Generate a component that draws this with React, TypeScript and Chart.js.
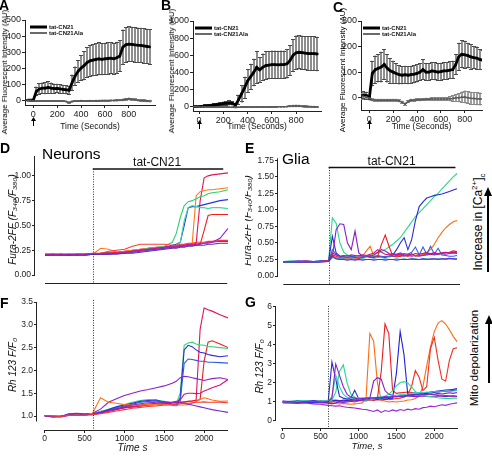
import React, { useEffect, useRef } from "react";
import { Chart, registerables } from "chart.js";

Chart.register(...registerables);

const FONT = '"Liberation Sans", Arial, Helvetica, sans-serif';
Chart.defaults.font.family = FONT;
Chart.defaults.color = "#222";

// ================= Panels A-C (mean ± error, AU) =================
const timeABC = [-50, -25, 0, 25, 50, 75, 100, 125, 150, 175, 200, 225, 250, 275, 300, 325, 350, 375, 400, 425, 450, 475, 500, 525, 550, 575, 600, 625, 650, 675, 700, 725, 750, 775, 800, 825, 850, 875, 900, 925, 950, 975];
const SERIES_LABELS = ["tat-CN21", "tat-CN21Ala"];

const meanA = [0, 0, 0, 55, 70, 75, 75, 80, 75, 72, 73, 70, 68, 65, 62, 110, 150, 180, 200, 215, 235, 245, 250, 255, 258, 255, 258, 260, 262, 258, 265, 275, 330, 345, 350, 348, 345, 343, 342, 338, 335, 332];
const errA = [3, 3, 5, 30, 35, 35, 38, 40, 35, 32, 30, 30, 28, 28, 28, 50, 60, 70, 80, 90, 95, 100, 100, 102, 102, 100, 100, 100, 100, 100, 100, 100, 110, 112, 112, 110, 110, 110, 110, 110, 110, 110];
const alaA = [0, -2, -5, -5, -6, -5, -5, -5, -6, -5, -5, -6, -5, -8, -15, -8, -6, -5, -4, -5, -5, -4, -5, -4, -4, -3, -3, -3, -2, -2, -1, 0, 2, 5, 8, 6, 3, 0, -2, -3, -5, -6];
const alaErrA = [4, 4, 4, 5, 5, 5, 5, 5, 5, 5, 5, 5, 5, 5, 6, 6, 6, 6, 6, 6, 6, 6, 6, 6, 6, 6, 6, 6, 6, 6, 6, 7, 8, 8, 8, 8, 8, 8, 8, 8, 8, 8];

const meanB = [0, 0, 0, 5, 10, 12, 15, 20, 25, 30, 35, 40, 45, 40, 20, 80, 150, 220, 300, 350, 400, 460, 430, 460, 480, 485, 490, 490, 488, 490, 490, 500, 540, 600, 630, 635, 630, 625, 620, 620, 620, 615];
const errB = [10, 10, 10, 15, 18, 20, 20, 20, 22, 25, 25, 28, 30, 25, 20, 60, 100, 130, 140, 150, 160, 190, 150, 160, 165, 165, 165, 165, 165, 165, 165, 170, 180, 190, 200, 200, 200, 200, 200, 200, 200, 200];
const alaB = [0, 0, -3, -3, -4, -4, -5, -5, -4, -5, -5, -5, -6, -6, -8, -6, -5, -5, -4, -4, -4, -3, -3, -3, -3, -2, -2, -2, -1, -1, 0, 2, 5, 8, 10, 8, 6, 4, 2, 0, -2, -3];
const alaErrB = [8, 8, 8, 8, 8, 8, 8, 8, 8, 8, 8, 8, 8, 8, 8, 8, 8, 8, 8, 8, 8, 8, 8, 8, 8, 8, 8, 8, 8, 8, 8, 10, 12, 14, 15, 15, 14, 14, 12, 12, 12, 12];

const meanC = [10, 8, 0, 95, 110, 115, 120, 130, 115, 105, 100, 95, 90, 88, 90, 88, 90, 92, 95, 100, 110, 100, 100, 105, 103, 100, 102, 105, 105, 108, 110, 130, 160, 170, 168, 165, 160, 157, 155, 150, 147, 145];
const errC = [15, 15, 10, 50, 55, 55, 60, 60, 55, 50, 45, 40, 38, 35, 35, 35, 35, 35, 35, 35, 40, 35, 35, 35, 35, 35, 35, 35, 35, 35, 35, 40, 55, 55, 55, 50, 50, 45, 45, 40, 40, 40];
const alaC = [5, 3, -2, -8, -10, -10, -10, -10, -10, -10, -10, -10, -12, -18, -25, -15, -10, -10, -8, -8, -7, -6, -6, -5, -5, -5, -5, -5, -5, -4, -3, 0, 0, 2, 3, 0, -2, -3, -4, -5, -5, -6];
const alaErrC = [12, 12, 8, 6, 6, 6, 6, 6, 6, 6, 6, 6, 6, 6, 6, 6, 6, 6, 6, 6, 6, 6, 6, 6, 6, 6, 6, 6, 8, 10, 12, 15, 18, 22, 25, 25, 25, 25, 25, 25, 25, 25];

const xTicksABC = [0, 200, 400, 600, 800];
const yTicksA = [0, 100, 200, 300, 400, 500];
const yTicksB = [0, 200, 400, 600, 800, 1000];
const yTicksC = [0, 100, 200, 300];

// ================= Neurons (D: Fura-2FF, F: Rh123) =================
const timeNeu = [0, 100, 200, 300, 400, 500, 600, 700, 800, 900, 1000, 1100, 1200, 1300, 1400, 1500, 1600, 1650, 1700, 1750, 1800, 1850, 1900, 1950, 2000, 2050, 2100, 2200, 2300];

const furaN1 = [0.21, 0.21, 0.20, 0.21, 0.21, 0.21, 0.21, 0.22, 0.23, 0.23, 0.24, 0.25, 0.26, 0.27, 0.28, 0.28, 0.29, 0.29, 0.30, 0.30, 0.31, 0.31, 0.32, 0.75, 0.98, 1.00, 1.01, 1.02, 1.03];
const furaN2 = [0.21, 0.21, 0.21, 0.20, 0.21, 0.21, 0.21, 0.27, 0.26, 0.23, 0.24, 0.25, 0.26, 0.27, 0.27, 0.28, 0.29, 0.29, 0.30, 0.31, 0.31, 0.32, 0.80, 0.84, 0.85, 0.86, 0.86, 0.87, 0.88];
const furaN3 = [0.20, 0.21, 0.21, 0.21, 0.20, 0.21, 0.21, 0.21, 0.22, 0.22, 0.23, 0.24, 0.25, 0.27, 0.28, 0.29, 0.33, 0.42, 0.58, 0.70, 0.74, 0.75, 0.77, 0.79, 0.80, 0.82, 0.83, 0.84, 0.86];
const furaN4 = [0.21, 0.20, 0.21, 0.21, 0.21, 0.20, 0.21, 0.21, 0.22, 0.22, 0.23, 0.23, 0.24, 0.25, 0.26, 0.27, 0.29, 0.30, 0.33, 0.55, 0.68, 0.70, 0.69, 0.68, 0.68, 0.67, 0.68, 0.68, 0.67];
const furaN5 = [0.20, 0.20, 0.21, 0.20, 0.21, 0.21, 0.21, 0.21, 0.22, 0.22, 0.23, 0.24, 0.25, 0.26, 0.27, 0.28, 0.30, 0.31, 0.33, 0.50, 0.68, 0.69, 0.69, 0.70, 0.71, 0.72, 0.73, 0.75, 0.76];
const furaN6 = [0.21, 0.21, 0.21, 0.21, 0.20, 0.21, 0.22, 0.22, 0.22, 0.23, 0.23, 0.24, 0.25, 0.26, 0.26, 0.27, 0.28, 0.28, 0.29, 0.29, 0.30, 0.30, 0.30, 0.31, 0.45, 0.60, 0.61, 0.61, 0.61];
const furaN7 = [0.21, 0.20, 0.21, 0.21, 0.21, 0.21, 0.21, 0.22, 0.24, 0.25, 0.26, 0.29, 0.31, 0.31, 0.31, 0.31, 0.30, 0.30, 0.31, 0.31, 0.32, 0.32, 0.33, 0.33, 0.33, 0.34, 0.34, 0.35, 0.35];
const furaN8 = [0.20, 0.21, 0.20, 0.21, 0.21, 0.20, 0.21, 0.21, 0.21, 0.22, 0.22, 0.23, 0.24, 0.25, 0.26, 0.27, 0.28, 0.28, 0.29, 0.29, 0.30, 0.30, 0.31, 0.31, 0.32, 0.32, 0.33, 0.37, 0.47];
const furaN9 = [0.20, 0.20, 0.20, 0.20, 0.20, 0.20, 0.21, 0.21, 0.21, 0.21, 0.22, 0.22, 0.23, 0.24, 0.25, 0.26, 0.27, 0.27, 0.28, 0.28, 0.29, 0.29, 0.30, 0.30, 0.30, 0.31, 0.31, 0.32, 0.32];
const furaN10 = [0.21, 0.21, 0.21, 0.20, 0.21, 0.21, 0.21, 0.21, 0.22, 0.22, 0.23, 0.24, 0.25, 0.26, 0.27, 0.28, 0.29, 0.29, 0.30, 0.30, 0.31, 0.31, 0.31, 0.32, 0.32, 0.33, 0.33, 0.34, 0.34];

const rhN1 = [1.00, 0.99, 1.00, 1.02, 1.03, 1.02, 1.05, 1.10, 1.13, 1.16, 1.18, 1.20, 1.22, 1.24, 1.26, 1.27, 1.28, 1.30, 1.30, 1.31, 1.32, 1.33, 1.35, 2.90, 3.37, 3.33, 3.30, 3.22, 3.15];
const rhN2 = [1.01, 0.99, 0.99, 1.03, 1.02, 1.03, 1.04, 1.08, 1.12, 1.15, 1.18, 1.20, 1.22, 1.24, 1.25, 1.27, 1.28, 1.29, 1.30, 1.30, 1.32, 1.33, 1.34, 1.36, 2.20, 2.62, 2.65, 2.58, 2.50];
const rhN3 = [1.00, 1.00, 0.98, 1.04, 1.03, 1.02, 1.06, 1.10, 1.15, 1.20, 1.25, 1.30, 1.34, 1.36, 1.35, 1.32, 1.28, 1.27, 1.50, 2.55, 2.60, 2.62, 2.58, 2.56, 2.55, 2.53, 2.52, 2.50, 2.48];
const rhN4 = [1.01, 0.98, 0.99, 1.02, 1.04, 1.03, 1.05, 1.08, 1.14, 1.20, 1.24, 1.28, 1.32, 1.34, 1.35, 1.30, 1.25, 1.24, 1.40, 2.45, 2.55, 2.52, 2.45, 2.40, 2.38, 2.35, 2.33, 2.30, 2.32];
const rhN5 = [1.00, 0.99, 1.00, 1.01, 1.02, 1.04, 1.04, 1.06, 1.12, 1.18, 1.22, 1.26, 1.30, 1.32, 1.33, 1.30, 1.24, 1.22, 1.32, 2.15, 2.25, 2.24, 2.22, 2.20, 2.20, 2.18, 2.18, 2.17, 2.16];
const rhN6 = [1.01, 1.00, 0.99, 1.05, 1.06, 1.05, 1.06, 1.15, 1.30, 1.38, 1.45, 1.50, 1.55, 1.58, 1.62, 1.66, 1.72, 1.76, 1.84, 1.87, 1.86, 1.84, 1.82, 1.80, 1.78, 1.80, 1.82, 1.84, 1.80];
const rhN7 = [1.00, 0.98, 0.99, 1.03, 1.05, 1.03, 1.04, 1.08, 1.12, 1.16, 1.20, 1.24, 1.27, 1.29, 1.30, 1.31, 1.30, 1.30, 1.29, 1.28, 1.26, 1.24, 1.22, 1.20, 1.18, 1.16, 1.14, 1.11, 1.08];
const rhN8 = [1.00, 1.00, 0.99, 1.02, 1.03, 1.02, 1.06, 1.40, 1.30, 1.28, 1.25, 1.24, 1.24, 1.25, 1.25, 1.24, 1.24, 1.23, 1.24, 1.24, 1.25, 1.28, 1.32, 1.36, 1.40, 1.38, 1.35, 1.32, 1.33];
const rhN9 = [1.00, 0.99, 0.98, 1.01, 1.02, 1.03, 1.03, 1.06, 1.10, 1.14, 1.18, 1.21, 1.24, 1.26, 1.28, 1.29, 1.30, 1.32, 1.35, 1.48, 1.50, 1.50, 1.49, 1.50, 1.55, 1.58, 1.62, 1.68, 1.80];
const rhN10 = [1.01, 1.00, 0.99, 1.02, 1.01, 1.02, 1.03, 1.05, 1.08, 1.11, 1.14, 1.17, 1.19, 1.21, 1.22, 1.24, 1.25, 1.26, 1.27, 1.28, 1.28, 1.29, 1.30, 1.30, 1.31, 1.30, 1.30, 1.30, 1.29];

// ================= Glia (E: Fura-2FF, G: Rh123) =================
const timeGlia = [0, 100, 200, 300, 400, 500, 600, 650, 700, 750, 800, 850, 900, 950, 1000, 1050, 1100, 1150, 1200, 1250, 1300, 1350, 1400, 1450, 1500, 1550, 1600, 1650, 1700, 1750, 1800, 1850, 1900, 1950, 2000, 2050, 2100, 2150, 2200, 2250, 2300];

const furaG1 = [0.22, 0.23, 0.22, 0.23, 0.22, 0.23, 0.24, 0.88, 0.80, 0.50, 0.36, 0.32, 0.30, 0.29, 0.28, 0.29, 0.30, 0.31, 0.33, 0.35, 0.37, 0.40, 0.44, 0.48, 0.53, 0.58, 0.66, 0.74, 0.82, 0.90, 0.96, 1.02, 1.08, 1.14, 1.20, 1.25, 1.32, 1.38, 1.44, 1.50, 1.55];
const furaG2 = [0.22, 0.22, 0.23, 0.22, 0.22, 0.23, 0.23, 0.60, 0.35, 0.30, 0.29, 0.28, 0.30, 0.28, 0.27, 0.28, 0.30, 0.29, 0.28, 0.30, 0.29, 0.28, 0.30, 0.32, 0.40, 0.50, 0.58, 0.40, 0.55, 0.84, 1.05, 1.12, 1.18, 1.20, 1.22, 1.23, 1.24, 1.26, 1.28, 1.30, 1.32];
const furaG3 = [0.21, 0.22, 0.21, 0.22, 0.21, 0.22, 0.22, 0.30, 0.70, 0.79, 0.78, 0.50, 0.40, 0.68, 0.35, 0.30, 0.29, 0.30, 0.32, 0.36, 0.40, 0.38, 0.34, 0.32, 0.33, 0.35, 0.32, 0.31, 0.30, 0.31, 0.30, 0.31, 0.32, 0.33, 0.32, 0.33, 0.34, 0.33, 0.34, 0.35, 0.34];
const furaG4 = [0.22, 0.21, 0.22, 0.22, 0.21, 0.22, 0.23, 0.30, 0.28, 0.27, 0.28, 0.27, 0.28, 0.27, 0.28, 0.30, 0.38, 0.45, 0.30, 0.28, 0.29, 0.30, 0.29, 0.30, 0.31, 0.30, 0.31, 0.30, 0.32, 0.31, 0.33, 0.34, 0.36, 0.40, 0.48, 0.58, 0.66, 0.73, 0.78, 0.82, 0.84];
const furaG5 = [0.22, 0.22, 0.21, 0.22, 0.22, 0.22, 0.23, 0.32, 0.30, 0.28, 0.27, 0.28, 0.27, 0.28, 0.27, 0.28, 0.30, 0.28, 0.29, 0.30, 0.48, 0.62, 0.45, 0.30, 0.29, 0.30, 0.31, 0.30, 0.34, 0.30, 0.31, 0.32, 0.34, 0.33, 0.35, 0.33, 0.34, 0.35, 0.36, 0.38, 0.37];
const furaG6 = [0.21, 0.22, 0.22, 0.21, 0.22, 0.22, 0.22, 0.40, 0.33, 0.30, 0.30, 0.31, 0.30, 0.30, 0.31, 0.30, 0.30, 0.31, 0.30, 0.31, 0.30, 0.29, 0.30, 0.30, 0.31, 0.32, 0.30, 0.33, 0.36, 0.44, 0.32, 0.44, 0.33, 0.45, 0.33, 0.42, 0.32, 0.31, 0.30, 0.30, 0.31];
const furaG7 = [0.21, 0.21, 0.22, 0.21, 0.21, 0.22, 0.22, 0.28, 0.27, 0.26, 0.26, 0.25, 0.26, 0.25, 0.25, 0.26, 0.25, 0.25, 0.26, 0.25, 0.25, 0.26, 0.25, 0.25, 0.26, 0.25, 0.26, 0.25, 0.26, 0.26, 0.25, 0.26, 0.26, 0.25, 0.26, 0.26, 0.26, 0.25, 0.26, 0.26, 0.25];
const furaG8 = [0.22, 0.22, 0.22, 0.23, 0.22, 0.22, 0.23, 0.35, 0.32, 0.30, 0.31, 0.30, 0.32, 0.31, 0.30, 0.32, 0.31, 0.33, 0.35, 0.40, 0.36, 0.33, 0.32, 0.34, 0.33, 0.32, 0.34, 0.33, 0.32, 0.34, 0.33, 0.34, 0.35, 0.34, 0.35, 0.34, 0.35, 0.36, 0.35, 0.36, 0.35];
const furaG9 = [0.21, 0.21, 0.21, 0.21, 0.21, 0.21, 0.22, 0.30, 0.26, 0.25, 0.25, 0.24, 0.25, 0.24, 0.25, 0.24, 0.25, 0.25, 0.24, 0.25, 0.25, 0.24, 0.25, 0.25, 0.24, 0.25, 0.25, 0.25, 0.26, 0.25, 0.25, 0.26, 0.25, 0.26, 0.26, 0.25, 0.26, 0.26, 0.27, 0.26, 0.26];

const rhG1 = [1.02, 0.98, 1.05, 1.00, 0.97, 1.03, 1.00, 3.10, 2.20, 1.30, 1.20, 1.15, 1.20, 1.62, 1.20, 1.15, 1.18, 1.20, 1.22, 1.20, 1.22, 1.25, 1.24, 1.26, 1.28, 1.30, 1.32, 1.35, 1.38, 1.40, 1.42, 1.45, 1.48, 1.52, 1.55, 1.58, 1.60, 1.62, 1.64, 1.66, 1.70];
const rhG2 = [1.00, 1.04, 0.98, 1.02, 1.05, 0.99, 1.02, 1.20, 3.00, 2.40, 1.80, 1.40, 1.25, 1.20, 1.15, 1.18, 1.20, 1.22, 1.20, 1.25, 1.22, 1.28, 1.25, 1.30, 1.28, 1.32, 1.30, 1.35, 1.32, 1.38, 1.35, 1.40, 1.38, 1.42, 1.40, 1.45, 1.42, 1.45, 1.48, 1.45, 1.50];
const rhG3 = [0.98, 1.02, 1.08, 1.04, 1.00, 1.06, 1.02, 1.10, 1.50, 2.60, 2.95, 2.00, 1.40, 1.25, 1.15, 1.12, 1.10, 1.12, 1.15, 1.18, 1.22, 1.30, 1.40, 1.60, 1.85, 2.02, 2.07, 2.00, 1.80, 1.55, 1.40, 1.35, 1.30, 1.28, 1.25, 1.22, 1.20, 1.18, 1.18, 1.20, 1.20];
const rhG4 = [1.04, 1.00, 1.02, 1.07, 1.03, 1.01, 1.05, 1.30, 2.40, 1.80, 1.40, 1.25, 1.20, 1.18, 1.20, 1.22, 1.20, 1.25, 1.22, 1.25, 1.28, 1.30, 1.28, 1.32, 1.35, 1.38, 1.40, 1.42, 1.45, 1.48, 1.50, 1.48, 1.52, 1.50, 1.55, 1.52, 1.55, 1.58, 1.55, 1.58, 1.60];
const rhG5 = [1.00, 0.97, 1.03, 0.99, 1.01, 0.96, 0.98, 0.95, 0.92, 0.90, 0.92, 0.90, 0.88, 0.90, 0.92, 0.95, 1.20, 4.60, 4.20, 2.00, 1.10, 1.05, 1.00, 1.02, 1.00, 1.02, 1.05, 1.10, 1.12, 1.18, 1.30, 1.80, 2.90, 3.90, 4.70, 5.15, 5.28, 5.10, 4.80, 4.45, 4.17];
const rhG6 = [1.03, 1.00, 0.98, 1.04, 1.02, 1.00, 1.03, 1.05, 1.10, 1.08, 1.05, 1.10, 1.08, 1.10, 1.12, 1.10, 1.15, 1.12, 1.15, 1.20, 2.60, 5.10, 4.60, 1.60, 1.45, 1.48, 1.50, 1.52, 1.50, 1.48, 1.50, 1.45, 1.42, 1.40, 1.38, 1.36, 1.35, 1.34, 1.32, 1.30, 1.30];
const rhG7 = [0.99, 1.02, 1.00, 0.97, 1.01, 1.03, 1.00, 1.00, 1.05, 1.02, 1.00, 1.05, 1.02, 1.00, 1.05, 1.08, 1.05, 1.10, 1.08, 1.12, 1.10, 1.15, 1.12, 1.15, 1.18, 1.20, 1.25, 1.40, 1.80, 2.65, 2.30, 1.60, 1.80, 3.80, 4.40, 3.20, 2.20, 2.10, 3.20, 3.80, 3.85];
const rhG8 = [1.05, 1.02, 1.06, 1.03, 1.08, 1.04, 1.06, 1.10, 1.08, 1.05, 1.10, 1.08, 1.12, 1.10, 1.08, 1.12, 1.10, 1.15, 1.12, 1.15, 1.18, 1.15, 1.18, 1.20, 2.50, 4.70, 3.50, 1.40, 1.35, 1.38, 1.40, 1.42, 1.45, 1.48, 1.50, 1.52, 1.55, 1.55, 1.58, 1.60, 1.62];
const rhG9 = [0.97, 1.00, 0.96, 0.99, 0.95, 0.98, 0.94, 0.90, 0.95, 1.00, 0.98, 1.00, 1.02, 1.05, 1.08, 1.10, 1.12, 1.20, 2.10, 2.28, 2.20, 1.60, 1.40, 1.35, 1.30, 1.28, 1.30, 1.32, 1.30, 1.28, 1.30, 1.32, 1.30, 1.28, 1.30, 1.32, 1.30, 1.28, 1.30, 1.32, 1.30];
const rhG10 = [0.95, 0.93, 0.92, 0.95, 0.90, 0.88, 0.82, 0.80, 0.78, 0.80, 0.75, 0.72, 0.70, 0.68, 0.65, 0.62, 0.60, 0.55, 0.50, 0.58, 0.45, 0.55, 0.50, 0.58, 0.52, 0.60, 0.55, 0.62, 0.58, 0.65, 0.62, 0.70, 0.72, 0.78, 0.75, 0.80, 0.85, 0.82, 0.88, 0.92, 0.95];

const yTicksD = [0, 0.25, 0.5, 0.75, 1.0];
const yTicksE = [0, 0.25, 0.5, 0.75, 1.0, 1.25, 1.5, 1.75];
const yTicksF = [1.0, 1.5, 2.0, 2.5, 3.0, 3.5];
const yTicksG = [0, 1, 2, 3, 4, 5, 6];
const xTicksFG = [0, 500, 1000, 1500, 2000];
const DRUG_LABEL = "tat-CN21";

// ================= styles =================
const colorsD = ["#e3145f", "#ff7a12", "#2fcf6e", "#3fd9a6", "#2336e0", "#f0201d", "#ff3b2f", "#8a24d6", "#4a30d0", "#d0148a"];
const colorsF = ["#e3145f", "#ea1f1f", "#33d67a", "#2a2ad8", "#2f5be6", "#8a1fd0", "#7d26c9", "#ff7410", "#d4127a", "#f23a3a"];
const colorsE = ["#26d98c", "#2b2bd8", "#8a1fc4", "#ff6a10", "#ec1c24", "#2f62e8", "#19a8b5", "#c8147f", "#5b2fd0"];
const colorsG = ["#2a2ad8", "#8a1fd0", "#27d98c", "#2fd0c0", "#ff6a10", "#ec1c24", "#f03020", "#2020e0", "#7a1fc8", "#9a22d8"];

type Geo = { left: number; top: number; w: number; h: number; l: number; t: number; r: number; b: number };
type Decor = {
  legend?: { dx: number };
  arrow0?: { from: number; to: number };
  spine?: { y0: number; y1: number; x0: number; x1: number };
  vline?: { x: number; yTop: number };
  bar?: { y: number; x0: number; x1: number; label: string; lx: number };
};

const GEO_A: Geo = { left: 0, top: 8, w: 160, h: 125, l: 25, t: 20, r: 155, b: 105 };
const GEO_B: Geo = { left: 160, top: 8, w: 165, h: 125, l: 193, t: 21, r: 322, b: 111 };
const GEO_C: Geo = { left: 325, top: 8, w: 167, h: 125, l: 361, t: 21, r: 482, b: 110 };
const GEO_D: Geo = { left: 0, top: 149, w: 236, h: 141, l: 35, t: 156, r: 228, b: 283 };
const GEO_E: Geo = { left: 245, top: 150, w: 222, h: 141, l: 278, t: 157, r: 460, b: 284 };
const GEO_F: Geo = { left: 0, top: 293, w: 236, h: 166, l: 37, t: 300, r: 228, b: 430 };
const GEO_G: Geo = { left: 246, top: 296, w: 222, h: 163, l: 276, t: 305, r: 458, b: 428 };

const pts = (ts: number[], vs: number[]) => ts.map((t, i) => ({ x: t, y: vs[i] }));

function traceSets(ts: number[], series: number[][], colors: string[]) {
  return series.map((vs, i) => ({
    data: pts(ts, vs),
    borderColor: colors[i % colors.length],
    borderWidth: 1.1,
    pointRadius: 0,
    fill: false,
    tension: 0,
  }));
}

function meanSets(mean: number[], err: number[], ala: number[], alaErr: number[]) {
  return [
    {
      label: SERIES_LABELS[1], data: pts(timeABC, ala), errors: alaErr, errorColor: "#a0a0a0", capColor: "#888",
      borderColor: "#5a5a5a", borderWidth: 1.6, pointStyle: "rect", pointRadius: 1.1,
      pointBackgroundColor: "#5a5a5a", pointBorderWidth: 0,
    },
    {
      label: SERIES_LABELS[0], data: pts(timeABC, mean), errors: err, errorColor: "#8e8e8e", capColor: "#4a4a4a",
      borderColor: "#000", borderWidth: 2.8, pointStyle: "rect", pointRadius: 1.6,
      pointBackgroundColor: "#000", pointBorderWidth: 0,
    },
  ];
}

function makeDecor(d: Decor) {
  return {
    id: "decor",
    beforeDatasetsDraw(chart: any) {
      const { ctx, chartArea: ca } = chart;
      const xs = chart.scales.x, ys = chart.scales.y;
      ctx.save();
      ctx.beginPath();
      ctx.rect(ca.left, ca.top - 3, ca.right - ca.left, ca.bottom - ca.top + 6);
      ctx.clip();
      chart.data.datasets.forEach((ds: any) => {
        if (!ds.errors) return;
        // vertical bars
        ctx.strokeStyle = ds.errorColor;
        ctx.lineWidth = 2;
        ctx.beginPath();
        ds.data.forEach((p: any, i: number) => {
          const e = ds.errors[i];
          const x = Math.round(xs.getPixelForValue(p.x));
          ctx.moveTo(x, ys.getPixelForValue(p.y + e));
          ctx.lineTo(x, ys.getPixelForValue(p.y - e));
        });
        ctx.stroke();
        // caps
        ctx.strokeStyle = ds.capColor;
        ctx.lineWidth = 1;
        ctx.beginPath();
        ds.data.forEach((p: any, i: number) => {
          const e = ds.errors[i];
          const x = Math.round(xs.getPixelForValue(p.x));
          const y1 = Math.round(ys.getPixelForValue(p.y + e)) + 0.5;
          const y2 = Math.round(ys.getPixelForValue(p.y - e)) - 0.5;
          ctx.moveTo(x - 2, y1); ctx.lineTo(x + 2, y1);
          ctx.moveTo(x - 2, y2); ctx.lineTo(x + 2, y2);
        });
        ctx.stroke();
      });
      ctx.restore();
    },
    afterDraw(chart: any) {
      const { ctx, chartArea: ca } = chart;
      const xs = chart.scales.x, ys = chart.scales.y;
      ctx.save();
      ctx.strokeStyle = "#222";
      ctx.fillStyle = "#111";
      ctx.lineWidth = 1;
      if (d.spine) {
        const x = Math.round(ca.left) - 0.5;
        ctx.beginPath();
        ctx.moveTo(x, ys.getPixelForValue(d.spine.y0));
        ctx.lineTo(x, ys.getPixelForValue(d.spine.y1));
        const y = Math.round(ca.bottom) + 0.5;
        ctx.moveTo(xs.getPixelForValue(d.spine.x0), y);
        ctx.lineTo(xs.getPixelForValue(d.spine.x1), y);
        ctx.stroke();
      }
      if (d.vline) {
        const x = Math.round(xs.getPixelForValue(d.vline.x)) + 0.5;
        ctx.save();
        ctx.setLineDash([1, 1.5]);
        ctx.strokeStyle = "#333";
        ctx.beginPath();
        ctx.moveTo(x, ys.getPixelForValue(d.vline.yTop));
        ctx.lineTo(x, ca.bottom);
        ctx.stroke();
        ctx.restore();
      }
      if (d.bar) {
        const y = ys.getPixelForValue(d.bar.y);
        ctx.lineWidth = 1.5;
        ctx.strokeStyle = "#111";
        ctx.beginPath();
        ctx.moveTo(xs.getPixelForValue(d.bar.x0), y);
        ctx.lineTo(xs.getPixelForValue(d.bar.x1), y);
        ctx.stroke();
        ctx.font = `12px ${FONT}`;
        ctx.textAlign = "center";
        ctx.textBaseline = "alphabetic";
        ctx.fillText(d.bar.label, xs.getPixelForValue(d.bar.lx), y - 2.5);
      }
      if (d.legend) {
        const x0 = ca.left + d.legend.dx;
        const y1 = ca.top + 7, y2 = ca.top + 13;
        ctx.lineWidth = 3;
        ctx.strokeStyle = "#000";
        ctx.beginPath(); ctx.moveTo(x0, y1); ctx.lineTo(x0 + 17, y1); ctx.stroke();
        ctx.lineWidth = 1.8;
        ctx.strokeStyle = "#5a5a5a";
        ctx.beginPath(); ctx.moveTo(x0, y2); ctx.lineTo(x0 + 17, y2); ctx.stroke();
        ctx.font = `bold 6px ${FONT}`;
        ctx.textAlign = "left";
        ctx.textBaseline = "middle";
        ctx.fillStyle = "#111";
        ctx.fillText(SERIES_LABELS[0], x0 + 19, y1);
        ctx.fillText(SERIES_LABELS[1], x0 + 19, y2);
      }
      if (d.arrow0) {
        const x = Math.round(xs.getPixelForValue(0)) + 0.5;
        const yt = ca.bottom + d.arrow0.from, yb = ca.bottom + d.arrow0.to;
        ctx.lineWidth = 1;
        ctx.strokeStyle = "#000";
        ctx.fillStyle = "#000";
        ctx.beginPath(); ctx.moveTo(x, yb); ctx.lineTo(x, yt + 2); ctx.stroke();
        ctx.beginPath(); ctx.moveTo(x, yt); ctx.lineTo(x - 2.5, yt + 4); ctx.lineTo(x + 2.5, yt + 4); ctx.closePath(); ctx.fill();
      }
      ctx.restore();
    },
  };
}

type AxisOpt = {
  min: number; max: number; ticks?: number[]; fmt?: (v: number) => string;
  size?: number; border?: boolean; title?: any;
};

function axis(o: AxisOpt) {
  const show = !!o.ticks;
  return {
    type: "linear",
    min: o.min,
    max: o.max,
    afterBuildTicks: (s: any) => {
      if (o.ticks) s.ticks = o.ticks.map((v) => ({ value: v }));
    },
    grid: { display: show, drawOnChartArea: false, drawTicks: true, tickLength: 3, color: "#222", lineWidth: 1 },
    border: { display: !!o.border, color: "#222", width: 1 },
    ticks: {
      display: show,
      font: { size: o.size ?? 9, family: FONT },
      color: "#222",
      padding: 1,
      maxRotation: 0,
      minRotation: 0,
      autoSkip: false,
      callback: (v: any) => (o.fmt ? o.fmt(Number(v)) : String(v)),
    },
    title: o.title ?? { display: false },
  };
}

function makeConfig(geo: Geo, datasets: any[], xOpt: any, yOpt: any, decor: Decor) {
  const xH = geo.top + geo.h - geo.b;
  const yW = geo.l - geo.left;
  return {
    type: "line",
    data: { datasets },
    options: {
      animation: false,
      responsive: false,
      maintainAspectRatio: false,
      devicePixelRatio: 1,
      events: [],
      layout: { padding: { left: 0, top: geo.t - geo.top, right: geo.left + geo.w - geo.r, bottom: 0 } },
      plugins: { legend: { display: false }, tooltip: { enabled: false }, title: { display: false } },
      elements: { line: { tension: 0, fill: false }, point: { radius: 0 } },
      scales: {
        x: { ...xOpt, afterFit: (s: any) => { s.height = xH; } },
        y: { ...yOpt, afterFit: (s: any) => { s.width = yW; } },
      },
    },
    plugins: [makeDecor(decor)],
  } as any;
}

const xTitleABC = { display: true, text: "Time (Seconds)", font: { size: 8.5, family: FONT }, color: "#111", padding: { top: 0, bottom: 1 } };
const f2 = (v: number) => v.toFixed(2);
const f1 = (v: number) => v.toFixed(1);
const furaTitle = (pad: number, lh: number) => ({
  display: true, text: "Fura-2FF (F₃₄₀/F₃₈₀)", font: { size: 10, style: "italic", family: FONT, lineHeight: lh },
  color: "#111", padding: { top: pad, bottom: 0 },
});
const rhTitle = (pad: number) => ({
  display: true, text: "Rh 123 F/F₀", font: { size: 10, style: "italic", family: FONT }, color: "#111", padding: { top: pad, bottom: 0 },
});

const PANELS: { geo: Geo; build: () => any }[] = [
  {
    geo: GEO_A,
    build: () => makeConfig(GEO_A, meanSets(meanA, errA, alaA, alaErrA),
      axis({ min: -70, max: 1020, ticks: xTicksABC, border: true, title: xTitleABC }),
      axis({ min: -30, max: 500, ticks: yTicksA, border: true }),
      { legend: { dx: 5 }, arrow0: { from: 12, to: 21 } }),
  },
  {
    geo: GEO_B,
    build: () => makeConfig(GEO_B, meanSets(meanB, errB, alaB, alaErrB),
      axis({ min: -50, max: 1005, ticks: xTicksABC, border: true, title: xTitleABC }),
      axis({ min: -50, max: 1000, ticks: yTicksB, border: true }),
      { legend: { dx: 2 }, arrow0: { from: 9, to: 18 } }),
  },
  {
    geo: GEO_C,
    build: () => makeConfig(GEO_C, meanSets(meanC, errC, alaC, alaErrC),
      axis({ min: -70, max: 945, ticks: xTicksABC, border: true, title: xTitleABC }),
      axis({ min: -48, max: 300, ticks: yTicksC, border: true }),
      { legend: { dx: 2 }, arrow0: { from: 10, to: 19 } }),
  },
  {
    geo: GEO_D,
    build: () => makeConfig(GEO_D,
      traceSets(timeNeu, [furaN9, furaN10, furaN8, furaN7, furaN6, furaN4, furaN5, furaN3, furaN2, furaN1],
        [colorsD[8], colorsD[9], colorsD[7], colorsD[6], colorsD[5], colorsD[3], colorsD[4], colorsD[2], colorsD[1], colorsD[0]]),
      axis({ min: -126, max: 2300 }),
      axis({ min: -0.08, max: 1.2, ticks: yTicksD, fmt: f2, size: 8.5, title: furaTitle(7, 1.2) }),
      { spine: { y0: 0, y1: 1.2, x0: 0, x1: 2290 }, vline: { x: 600, yTop: 1.07 }, bar: { y: 1.07, x0: 600, x1: 2240, label: DRUG_LABEL, lx: 1409 } }),
  },
  {
    geo: GEO_E,
    build: () => makeConfig(GEO_E,
      traceSets(timeGlia, [furaG9, furaG7, furaG8, furaG6, furaG5, furaG4, furaG3, furaG2, furaG1],
        [colorsE[8], colorsE[6], colorsE[7], colorsE[5], colorsE[4], colorsE[3], colorsE[2], colorsE[1], colorsE[0]]),
      axis({ min: -70, max: 2340 }),
      axis({ min: -0.12, max: 1.8, ticks: yTicksE, fmt: f2, size: 8.5, title: furaTitle(0, 0.6) }),
      { spine: { y0: 0, y1: 1.78, x0: 0, x1: 2340 }, vline: { x: 600, yTop: 1.64 }, bar: { y: 1.64, x0: 600, x1: 2280, label: DRUG_LABEL, lx: 1434 } }),
  },
  {
    geo: GEO_F,
    build: () => makeConfig(GEO_F,
      traceSets(timeNeu, [rhN10, rhN7, rhN8, rhN9, rhN6, rhN5, rhN4, rhN3, rhN2, rhN1],
        [colorsF[9], colorsF[6], colorsF[7], colorsF[8], colorsF[5], colorsF[4], colorsF[3], colorsF[2], colorsF[1], colorsF[0]]),
      axis({ min: -97, max: 2300, ticks: xTicksFG, size: 8.5, title: { display: true, text: "Time s", font: { size: 10, style: "italic", family: FONT }, color: "#111", padding: { top: 0, bottom: 5 } } }),
      axis({ min: 0.693, max: 3.544, ticks: yTicksF, fmt: f1, size: 8.5, title: rhTitle(7) }),
      { spine: { y0: 0.88, y1: 3.5, x0: 0, x1: 2300 }, vline: { x: 600, yTop: 3.544 } }),
  },
  {
    geo: GEO_G,
    build: () => makeConfig(GEO_G,
      traceSets(timeGlia, [rhG10, rhG2, rhG4, rhG1, rhG3, rhG9, rhG8, rhG6, rhG7, rhG5],
        [colorsG[9], colorsG[1], colorsG[3], colorsG[0], colorsG[2], colorsG[8], colorsG[7], colorsG[5], colorsG[6], colorsG[4]]),
      axis({ min: -88, max: 2313, ticks: xTicksFG, size: 8.5, title: { display: true, text: "Time, s", font: { size: 9.5, family: FONT, style: "italic" }, color: "#111", padding: { top: 0, bottom: 6.5 } } }),
      axis({ min: -0.37, max: 6.1, ticks: yTicksG, size: 8.5, title: rhTitle(8) }),
      { spine: { y0: 0, y1: 6, x0: -20, x1: 2313 }, vline: { x: 600, yTop: 6.05 } }),
  },
];

const abs = (extra: React.CSSProperties): React.CSSProperties => ({
  position: "absolute", whiteSpace: "nowrap", lineHeight: 1, color: "#000", fontFamily: FONT, ...extra,
});
const rot = (cx: number, cy: number, size: number, extra: React.CSSProperties = {}): React.CSSProperties =>
  abs({ left: cx, top: cy, fontSize: size, lineHeight: `${size}px`, transform: "translate(-50%,-50%) rotate(-90deg)", ...extra });

function Arrow({ x, top, bottom }: { x: number; top: number; bottom: number }) {
  return (
    <>
      <div style={{ position: "absolute", left: x - 1.25, top: top + 7, width: 2.5, height: bottom - top - 7, background: "#000" }} />
      <div style={{ position: "absolute", left: x - 4, top, width: 0, height: 0, borderLeft: "4px solid transparent", borderRight: "4px solid transparent", borderBottom: "9px solid #000" }} />
    </>
  );
}

export default function App() {
  const refs = useRef<(HTMLCanvasElement | null)[]>([]);
  useEffect(() => {
    document.body.style.margin = "0";
    const charts = PANELS.map((p, i) => new Chart(refs.current[i] as HTMLCanvasElement, p.build()));
    return () => charts.forEach((c) => c.destroy());
  }, []);

  const letter = (t: string, x: number, y: number) => (
    <div style={abs({ left: x, top: y, fontSize: 14, fontWeight: "bold", lineHeight: "14px" })}>{t}</div>
  );

  return (
    <div style={{ position: "fixed", left: 0, top: 0, width: 492, height: 459, background: "#fff", overflow: "hidden" }}>
      {PANELS.map((p, i) => (
        <canvas
          key={i}
          ref={(el) => { refs.current[i] = el; }}
          width={p.geo.w}
          height={p.geo.h}
          style={{ position: "absolute", left: p.geo.left, top: p.geo.top, width: p.geo.w, height: p.geo.h }}
        />
      ))}
      {letter("A", -1, -2)}
      {letter("B", 161, -2)}
      {letter("C", 333, 0)}
      {letter("D", 0, 141)}
      {letter("E", 245, 141)}
      {letter("F", 0, 296)}
      {letter("G", 245, 295)}

      <div style={rot(5, 72, 8)}>Average Fluorescent Intensity (AU)</div>
      <div style={rot(172, 71, 8)}>Average Fluorescent Intensity (AU)</div>
      <div style={rot(343, 70, 8)}>Average Fluorescent Intensity (AU)</div>

      <div style={abs({ left: 42, top: 146, fontSize: 15.5 })}>Neurons</div>
      <div style={abs({ left: 282, top: 151, fontSize: 15.5 })}>Glia</div>

      <div style={rot(478, 222, 12)}>
        Increase in [Ca<sup style={{ fontSize: 8, lineHeight: 0 }}>2+</sup>]<sub style={{ fontSize: 8, lineHeight: 0 }}>c</sub>
      </div>
      <Arrow x={488} top={187} bottom={272} />

      <div style={rot(475, 358, 11.5)}>Mito depolarization</div>
      <Arrow x={489} top={315} bottom={383} />
    </div>
  );
}
